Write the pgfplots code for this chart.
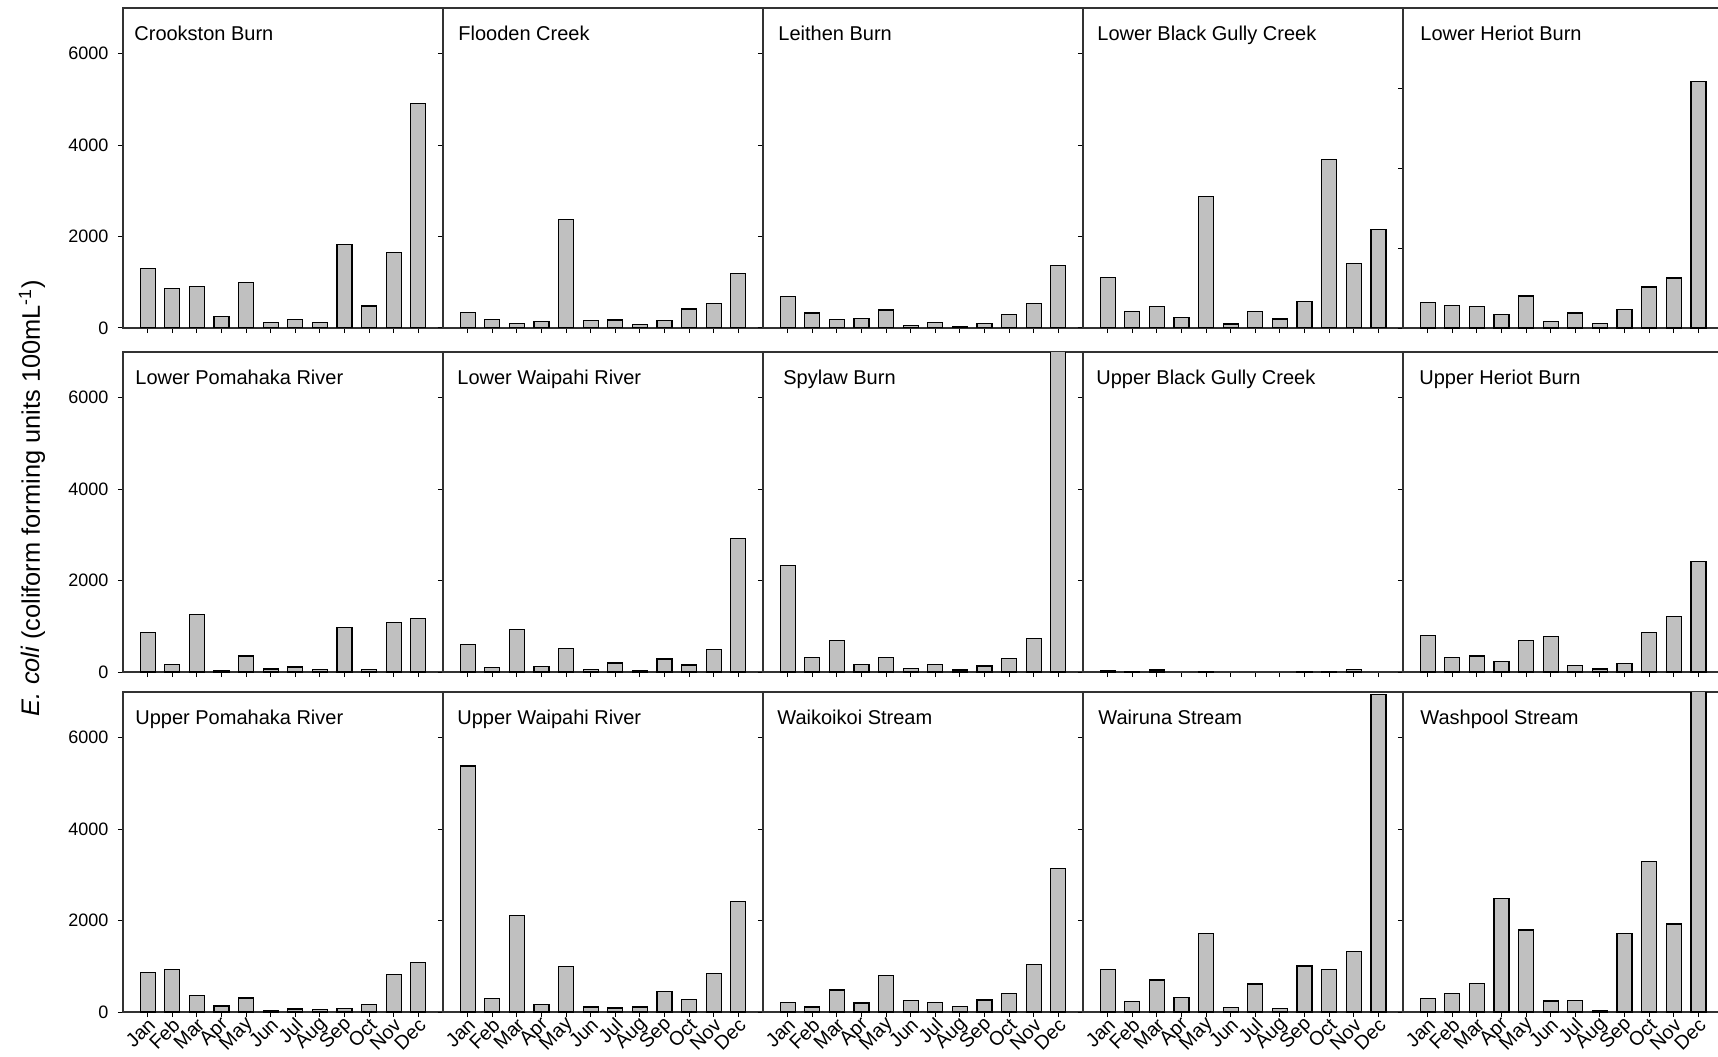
\documentclass[border=0pt]{standalone}
\usepackage{pgfplots}
\pgfplotsset{compat=1.18}
\usepackage{fontspec}
\setmainfont{Liberation Sans}
\definecolor{barfill}{RGB}{192,192,192}
\definecolor{axline}{RGB}{50,50,50}
\pgfplotsset{
  panel/.style={
    width=160pt, height=160pt, scale only axis,
    anchor=north west,
    xmin=0, xmax=13, ymin=0, ymax=7000,
    ybar, bar width=7.5pt,
    xtick={1,...,12}, xticklabels={},
    ytick={0,2000,4000,6000}, yticklabels={},
    xtick pos=bottom, ytick pos=left,
    tick align=outside, major tick length=2.6pt,
    axis line style={line width=0.6pt, color=axline},
    every tick/.style={line width=0.5pt, color=black},
    clip=true,
    /pgf/number format/assume math mode=true,
    /pgf/number format/1000 sep={},
    ticklabel style={font=\fontsize{9}{10}\selectfont},
  },
  firstcol/.style={
    yticklabels={0,2000,4000,6000},
    yticklabel style={xshift=-1.2pt},
  },
  bottomrow/.style={
    xticklabels={Jan,Feb,Mar,Apr,May,Jun,Jul,Aug,Sep,Oct,Nov,Dec},
    xticklabel style={rotate=45, anchor=east, inner sep=1pt, yshift=-3pt, xshift=1pt, font=\fontsize{9.8}{11}\selectfont},
  },
  barstyle/.style={fill=barfill, draw=black, line width=0.6pt},
}
\newcommand{\ptitle}[2]{\node[anchor=north west, inner sep=0pt, font=\fontsize{10}{12}\selectfont, xshift=#1] at (rel axis cs:0,1) [yshift=-8.7pt] {#2};}
\begin{document}
\begin{tikzpicture}
% ---------------- Row 1 ----------------
\begin{axis}[panel, firstcol, at={(61.5pt,-4pt)}]
\addplot[barstyle] coordinates {(1,1309)(2,865)(3,916)(4,247)(5,996)(6,116)(7,182)(8,124)(9,1825)(10,480)(11,1658)(12,4908)};
\ptitle{5.5pt}{Crookston Burn}
\end{axis}
\begin{axis}[panel, at={(221.5pt,-4pt)}]
\addplot[barstyle] coordinates {(1,334)(2,182)(3,102)(4,138)(5,2370)(6,160)(7,174)(8,73)(9,160)(10,414)(11,531)(12,1200)};
\ptitle{7.5pt}{Flooden Creek}
\end{axis}
\begin{axis}[panel, at={(381.5pt,-4pt)}]
\addplot[barstyle] coordinates {(1,691)(2,327)(3,182)(4,204)(5,393)(6,51)(7,116)(8,29)(9,95)(10,291)(11,531)(12,1374)};
\ptitle{7.5pt}{Leithen Burn}
\end{axis}
\begin{axis}[panel, at={(541.5pt,-4pt)}]
\addplot[barstyle] coordinates {(1,1112)(2,356)(3,465)(4,225)(5,2872)(6,87)(7,364)(8,196)(9,580)(10,3688)(11,1413)(12,2155)};
\ptitle{7pt}{Lower Black Gully Creek}
\end{axis}
\begin{axis}[panel, ymax=8000, at={(701.5pt,-4pt)}]
\addplot[barstyle] coordinates {(1,642)(2,558)(3,533)(4,342)(5,800)(6,167)(7,375)(8,108)(9,458)(10,1025)(11,1250)(12,6158)};
\ptitle{8.5pt}{Lower Heriot Burn}
\end{axis}
% ---------------- Row 2 ----------------
\begin{axis}[panel, firstcol, at={(61.5pt,-176pt)}]
\addplot[barstyle] coordinates {(1,858)(2,167)(3,1265)(4,36)(5,349)(6,65)(7,109)(8,58)(9,967)(10,58)(11,1083)(12,1163)};
\ptitle{6pt}{Lower Pomahaka River}
\end{axis}
\begin{axis}[panel, at={(221.5pt,-176pt)}]
\addplot[barstyle] coordinates {(1,603)(2,102)(3,931)(4,116)(5,516)(6,58)(7,196)(8,22)(9,284)(10,153)(11,487)(12,2923)};
\ptitle{7pt}{Lower Waipahi River}
\end{axis}
\begin{axis}[panel, at={(381.5pt,-176pt)}]
\addplot[barstyle] coordinates {(1,2327)(2,320)(3,691)(4,167)(5,320)(6,80)(7,167)(8,44)(9,131)(10,298)(11,734)(12,9000)};
\ptitle{10pt}{Spylaw Burn}
\end{axis}
\begin{axis}[panel, at={(541.5pt,-176pt)}]
\addplot[barstyle] coordinates {(1,22)(2,10)(3,44)(5,10)(9,10)(10,10)(11,58)};
\ptitle{6.5pt}{Upper Black Gully Creek}
\end{axis}
\begin{axis}[panel, at={(701.5pt,-176pt)}]
\addplot[barstyle] coordinates {(1,792)(2,320)(3,349)(4,225)(5,691)(6,785)(7,145)(8,65)(9,189)(10,858)(11,1214)(12,2414)};
\ptitle{8pt}{Upper Heriot Burn}
\end{axis}
% ---------------- Row 3 ----------------
\begin{axis}[panel, firstcol, bottomrow, at={(61.5pt,-346pt)}]
\addplot[barstyle] coordinates {(1,872)(2,938)(3,356)(4,131)(5,305)(6,36)(7,65)(8,51)(9,73)(10,160)(11,814)(12,1083)};
\ptitle{6pt}{Upper Pomahaka River}
\end{axis}
\begin{axis}[panel, bottomrow, at={(221.5pt,-346pt)}]
\addplot[barstyle] coordinates {(1,5380)(2,291)(3,2108)(4,160)(5,989)(6,109)(7,87)(8,109)(9,443)(10,276)(11,836)(12,2421)};
\ptitle{7pt}{Upper Waipahi River}
\end{axis}
\begin{axis}[panel, bottomrow, at={(381.5pt,-346pt)}]
\addplot[barstyle] coordinates {(1,204)(2,109)(3,480)(4,196)(5,807)(6,254)(7,204)(8,116)(9,262)(10,400)(11,1047)(12,3134)};
\ptitle{7pt}{Waikoikoi Stream}
\end{axis}
\begin{axis}[panel, bottomrow, at={(541.5pt,-346pt)}]
\addplot[barstyle] coordinates {(1,938)(2,225)(3,698)(4,313)(5,1723)(6,95)(7,611)(8,73)(9,1006)(10,934)(11,1317)(12,6946)};
\ptitle{7.5pt}{Wairuna Stream}
\end{axis}
\begin{axis}[panel, bottomrow, at={(701.5pt,-346pt)}]
\addplot[barstyle] coordinates {(1,298)(2,400)(3,618)(4,2487)(5,1796)(6,240)(7,254)(8,36)(9,1723)(10,3301)(11,1927)(12,9000)};
\ptitle{8.5pt}{Washpool Stream}
\end{axis}
% y label
\node[rotate=90, font=\fontsize{12.7}{14}\selectfont, inner sep=0pt] at (16pt,-249pt)
  {{\itshape E. coli} (coliform forming units 100mL\textsuperscript{-1})};
\pgfresetboundingbox
\path[use as bounding box] (0pt,0pt) rectangle (859pt,-528pt);
\end{tikzpicture}
\end{document}
